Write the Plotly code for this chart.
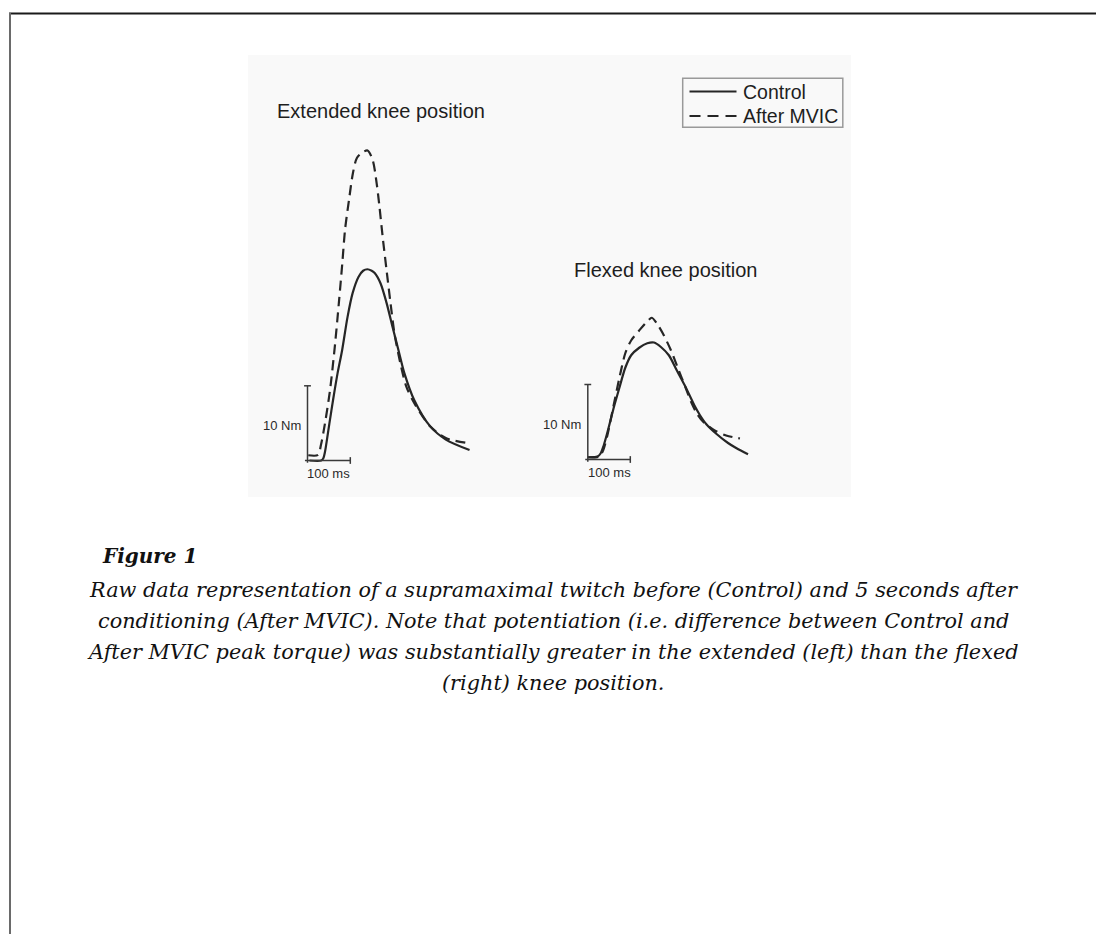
import plotly.graph_objects as go

# ---------------- data (ms, Nm) ----------------
ext_ctrl_ms = [4.6, 32, 37, 41, 46, 51, 60, 70, 81, 93.5, 105.4, 119.4, 130, 140, 150, 157, 170.8, 184.7, 198.6, 212.4, 226.3, 249.3, 286.3, 323.2, 378.6]
ext_ctrl_nm = [0, 0, 0.3, 1.2, 3.0, 4.9, 8.2, 11.6, 14.8, 19.2, 22.4, 24.6, 25.4, 25.6, 25.4, 25.1, 23.7, 21.1, 17.9, 14.8, 11.7, 8.1, 4.6, 2.8, 1.4]

ext_mvic_ms = [1.8, 24.5, 31.5, 40.9, 52.6, 64.6, 73.9, 81.3, 87.7, 97.0, 106.2, 115.4, 127.4, 140.4, 152.4, 161.6, 168.1, 175.5, 184.7, 193.9, 203.2, 217.0, 230.9, 249.3, 286.3, 323.2, 378.6]
ext_mvic_nm = [0.7, 0.74, 2.1, 5.0, 9.4, 15.7, 21.5, 26.4, 30.9, 34.9, 38.5, 40.5, 41.2, 41.5, 40.2, 37.1, 34.0, 30.0, 25.5, 21.1, 17.0, 13.0, 9.9, 7.7, 4.6, 3.0, 2.3]

flx_ctrl_ms = [0, 23, 30, 37, 46.5, 60.5, 74, 88, 102, 121, 140, 156, 172, 190.7, 209.3, 228, 251, 264, 279, 303, 330, 350, 377]
flx_ctrl_nm = [0.3, 0.4, 0.8, 1.8, 3.7, 6.8, 9.5, 12.2, 13.9, 14.9, 15.5, 15.6, 15.0, 13.9, 11.9, 9.9, 7.2, 5.9, 4.7, 3.4, 2.2, 1.5, 0.7]

flx_mvic_ms = [0, 27, 36, 46, 60, 74, 88.4, 102.3, 120.9, 139.5, 150.7, 162.8, 176.7, 195.3, 213.9, 230, 244.5, 258, 272, 297.6, 325.5, 358]
flx_mvic_nm = [0.3, 0.4, 1.2, 3.2, 7.0, 10.8, 14.2, 15.9, 17.2, 18.4, 18.9, 18.1, 16.8, 14.6, 11.9, 9.6, 7.5, 6.0, 5.0, 3.9, 3.2, 2.8]

scale_nm = 10
scale_ms = 100
series_names = ["Control", "After MVIC"]
panel_titles = ["Extended knee position", "Flexed knee position"]
caption_title = "Figure 1"
caption_lines = [
    "Raw data representation of a supramaximal twitch before (Control) and 5 seconds after",
    "conditioning (After MVIC). Note that potentiation (i.e. difference between Control and",
    "After MVIC peak torque) was substantially greater in the extended (left) than the flexed",
    "(right) knee position.",
]

# ---------------- layout geometry (screen pixels) ----------------
W, H = 1104, 934
OFF = 8          # page body margin: figure is drawn 8px right/down of the window corner
SPLIT = 530
L_ORIG = (307.5, 460.5); L_PXMS = 0.428; L_PXNM = 7.47
R_ORIG = (587.8, 459.5); R_PXMS = 0.425; R_PXNM = 7.5

def px(x):
    return (x - OFF) / W

def py(y):
    return 1 - (y - OFF) / H

INK = "#262626"
fig = go.Figure()

def add_curve(xs, ys, xa, ya, dash, name):
    fig.add_trace(go.Scatter(x=xs, y=ys, mode="lines", name=name, xaxis=xa, yaxis=ya,
                             line=dict(color=INK, width=2.2, dash=dash, shape="spline", smoothing=0.8),
                             showlegend=False, hoverinfo="skip"))

DASH = "10px,6px"
add_curve(ext_ctrl_ms, ext_ctrl_nm, "x", "y", "solid", series_names[0])
add_curve(ext_mvic_ms, ext_mvic_nm, "x", "y", DASH, series_names[1])
add_curve(flx_ctrl_ms, flx_ctrl_nm, "x2", "y2", "solid", series_names[0])
add_curve(flx_mvic_ms, flx_mvic_nm, "x2", "y2", DASH, series_names[1])

# axis ranges derived from screen geometry (figure coords = screen - OFF)
lx0 = L_ORIG[0] - OFF; ly0 = L_ORIG[1] - OFF
rx0 = R_ORIG[0] - OFF; ry0 = R_ORIG[1] - OFF
sp = SPLIT - OFF
fig.update_layout(
    width=W, height=H, margin=dict(l=0, r=0, t=0, b=0),
    paper_bgcolor="white", plot_bgcolor="rgba(0,0,0,0)",
    xaxis=dict(domain=[0, sp / W], range=[-lx0 / L_PXMS, (sp - lx0) / L_PXMS], visible=False),
    yaxis=dict(domain=[0, 1], range=[-(H - ly0) / L_PXNM, ly0 / L_PXNM], visible=False),
    xaxis2=dict(domain=[sp / W, 1], range=[(sp - rx0) / R_PXMS, (W - rx0) / R_PXMS], visible=False),
    yaxis2=dict(domain=[0, 1], range=[-(H - ry0) / R_PXNM, ry0 / R_PXNM], visible=False, anchor="x2"),
    showlegend=False,
)

shapes = []
# page frame lines
shapes.append(dict(type="line", xref="paper", yref="paper", x0=px(9), x1=px(W + 20), y0=py(13.5), y1=py(13.5),
                   line=dict(color="#1a1a1a", width=2)))
shapes.append(dict(type="line", xref="paper", yref="paper", x0=px(10), x1=px(10), y0=py(13), y1=py(H + 20),
                   line=dict(color="#6a6a6a", width=2)))
# light image background
shapes.append(dict(type="rect", xref="paper", yref="paper", x0=px(248), x1=px(851), y0=py(55), y1=py(497),
                   fillcolor="#f9f9f9", line=dict(width=0), layer="below"))

# scale bars
BAR = dict(color="#3a3a3a", width=1.5)
for xa, ya in (("x", "y"), ("x2", "y2")):
    shapes.append(dict(type="line", xref=xa, yref=ya, x0=0, x1=0, y0=-0.3, y1=scale_nm, line=BAR))
    shapes.append(dict(type="line", xref=xa, yref=ya, x0=-8, x1=8, y0=scale_nm, y1=scale_nm, line=BAR))
    shapes.append(dict(type="line", xref=xa, yref=ya, x0=-6, x1=scale_ms, y0=0, y1=0, line=BAR))
    shapes.append(dict(type="line", xref=xa, yref=ya, x0=scale_ms, x1=scale_ms, y0=-0.45, y1=0.45, line=BAR))

# manual legend
shapes.append(dict(type="rect", xref="paper", yref="paper", x0=px(682.7), x1=px(842.8), y0=py(78.3), y1=py(127.3),
                   line=dict(color="#9a9a9a", width=1.5), fillcolor="rgba(0,0,0,0)"))
shapes.append(dict(type="line", xref="paper", yref="paper", x0=px(689.5), x1=px(736.5), y0=py(91.5), y1=py(91.5),
                   line=dict(color=INK, width=2)))
shapes.append(dict(type="line", xref="paper", yref="paper", x0=px(689.5), x1=px(736.5), y0=py(116), y1=py(116),
                   line=dict(color=INK, width=2, dash="11px,7px")))
fig.update_layout(shapes=shapes)

SANS = "Liberation Sans, Arial, sans-serif"
SERIF = "DejaVu Serif, serif"
ann = []
ann.append(dict(text=series_names[0], xref="paper", yref="paper", x=px(741), y=py(92), xanchor="left", yanchor="middle",
                showarrow=False, font=dict(family=SANS, size=19.5, color="#1e1e1e")))
ann.append(dict(text=series_names[1], xref="paper", yref="paper", x=px(741), y=py(116), xanchor="left", yanchor="middle",
                showarrow=False, font=dict(family=SANS, size=19.5, color="#1e1e1e")))
ann.append(dict(text=panel_titles[0], xref="paper", yref="paper", x=px(274.5), y=py(111), xanchor="left", yanchor="middle",
                showarrow=False, font=dict(family=SANS, size=20, color="#1e1e1e")))
ann.append(dict(text=panel_titles[1], xref="paper", yref="paper", x=px(572), y=py(270), xanchor="left", yanchor="middle",
                showarrow=False, font=dict(family=SANS, size=20, color="#1e1e1e")))
for xa, ya in (("x", "y"), ("x2", "y2")):
    ann.append(dict(text=f"{scale_nm} Nm", xref=xa, yref=ya, x=0, y=scale_nm / 2 - 0.3, xanchor="right", yanchor="middle",
                    xshift=-5, showarrow=False, font=dict(family=SANS, size=13, color="#2a2a2a")))
    ann.append(dict(text=f"{scale_ms} ms", xref=xa, yref=ya, x=scale_ms / 2, y=0, xanchor="center", yanchor="top",
                    yshift=-3, showarrow=False, font=dict(family=SANS, size=13, color="#2a2a2a")))

ann.append(dict(text="<b><i>" + caption_title + "</i></b>", xref="paper", yref="paper", x=px(100), y=py(555.5),
                xanchor="left", yanchor="middle", showarrow=False, font=dict(family=SERIF, size=20, color="#111")))
for i, line in enumerate(caption_lines):
    ann.append(dict(text="<i>" + line + "</i>", xref="paper", yref="paper", x=px(553), y=py(589.5 + 31 * i),
                    xanchor="center", yanchor="middle", showarrow=False, font=dict(family=SERIF, size=20.8, color="#111")))
fig.update_layout(annotations=ann)

fig.write_html("out.html")
